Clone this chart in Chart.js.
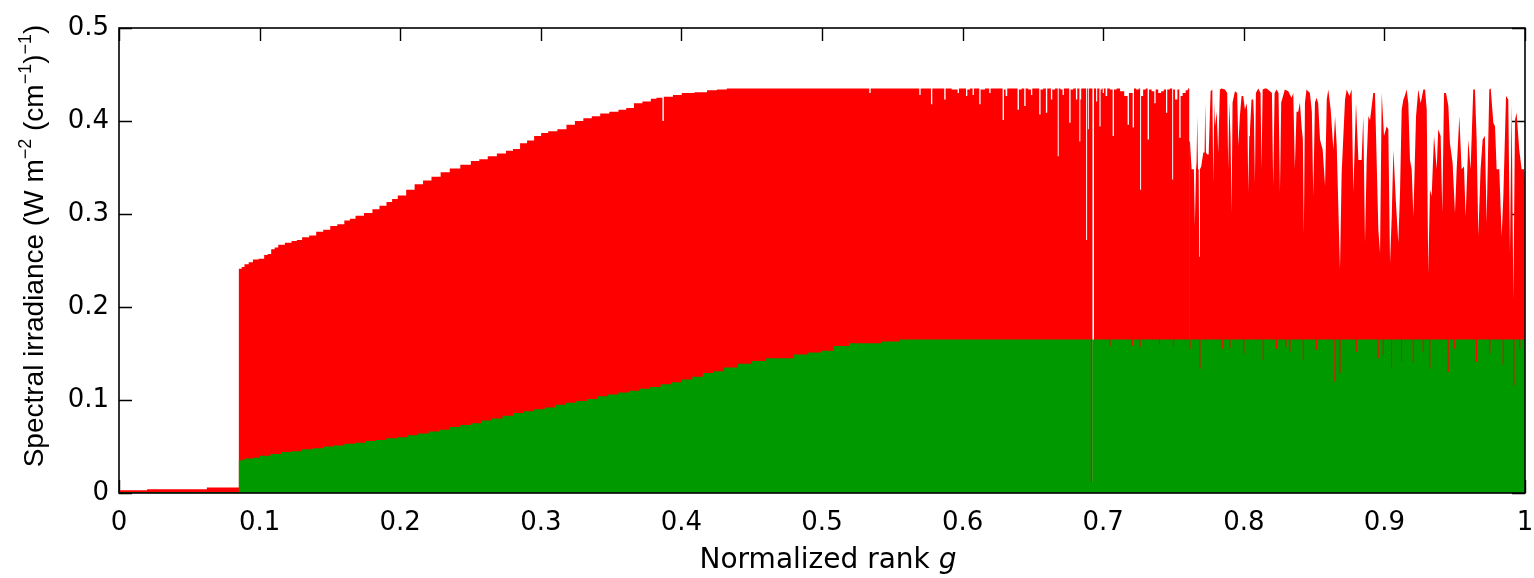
<!DOCTYPE html>
<html>
<head>
<meta charset="utf-8">
<script src="https://cdn.jsdelivr.net/npm/chart.js@4/dist/chart.umd.min.js"></script>
<style>
html,body{margin:0;padding:0;background:#fff;}
#wrap{width:1534px;height:578px;}
</style>
</head>
<body>
<div id="wrap"><canvas id="c" width="1534" height="578"></canvas></div>
<script>
// ---- data ----
const xTickLabels = ["0","0.1","0.2","0.3","0.4","0.5","0.6","0.7","0.8","0.9","1"];
const yTickLabels = ["0","0.1","0.2","0.3","0.4","0.5"];
const xTitleText = "Normalized rank ";
const xTitleVar = "g";
const yTitleParts = [["Spectral irradiance (W m", 0], ["\u22122", 1], [" (cm", 0], ["\u22121", 1], [")", 0], ["\u22121", 1], [")", 0]];

// red series, staircase part: [normalized rank g, spectral irradiance]
const redSeriesLeft = [
[0,0.003],[0.04,0.004],[0.085,0.006],
[0.0855,0.241],[0.089,0.243],[0.0895,0.246],[0.095,0.248],[0.0955,0.251],[0.103,0.252],[0.1035,0.256],[0.108,0.257],[0.1085,0.262],
[0.113,0.264],[0.1135,0.267],[0.1225,0.269],[0.123,0.271],[0.13,0.272],[0.1305,0.275],[0.14,0.277],[0.1405,0.281],[0.15,0.283],
[0.1505,0.287],[0.16,0.289],[0.1605,0.293],[0.168,0.295],[0.1685,0.298],[0.18,0.301],[0.1805,0.305],[0.19,0.309],[0.1905,0.313],
[0.198,0.316],[0.1985,0.320],[0.21,0.326],[0.2105,0.332],[0.222,0.336],[0.2225,0.340],[0.235,0.345],[0.2355,0.349],[0.25,0.353],
[0.2505,0.357],[0.262,0.359],[0.2625,0.362],[0.275,0.365],[0.2755,0.368],[0.285,0.370],[0.2855,0.376],[0.295,0.379],[0.2955,0.384],
[0.305,0.387],[0.3055,0.389],[0.318,0.391],[0.3185,0.396],[0.33,0.400],[0.3305,0.403],[0.342,0.405],[0.3425,0.408],[0.355,0.410],
[0.3555,0.412],[0.366,0.414],[0.3665,0.419],[0.378,0.421],[0.3785,0.424],[0.386,0.425],[0.387,0.400],[0.388,0.426],[0.4,0.428],
[0.4005,0.430],[0.418,0.431],[0.4185,0.433],[0.432,0.434],[0.4325,0.435],[0.52,0.435],
[0.5332,0.435],[0.5341,0.430],[0.5351,0.435],[0.5687,0.435],[0.5697,0.428],[0.5706,0.435],[0.5770,0.435],[0.5780,0.418],[0.5789,0.435],
[0.5865,0.435],[0.5874,0.423],[0.5884,0.435],[0.5960,0.434],[0.5969,0.430],[0.5979,0.435],[0.6019,0.435],[0.6029,0.427],[0.6038,0.434],
[0.6066,0.435],[0.6076,0.428],[0.6085,0.435],[0.6114,0.435],[0.6123,0.418],[0.6133,0.434],[0.6185,0.435],[0.6194,0.430],[0.6204,0.435],
[0.6280,0.435],[0.6289,0.401],[0.6299,0.434],[0.6313,0.427],[0.6322,0.435],[0.6386,0.435],[0.6396,0.412],[0.6405,0.434],
[0.6434,0.435],[0.6443,0.416],[0.6453,0.435],[0.6481,0.434],[0.6491,0.428],[0.6500,0.435],[0.6540,0.435],[0.6550,0.407],[0.6559,0.434],
[0.6588,0.435],[0.6597,0.409],[0.6607,0.435],[0.6623,0.435],[0.6633,0.423],[0.6642,0.434],[0.6673,0.435],[0.6680,0.362],[0.6687,0.435],
[0.6706,0.434],[0.6716,0.428],[0.6725,0.435],[0.6754,0.435],[0.6763,0.398],[0.6773,0.434],[0.6801,0.435],[0.6811,0.423],[0.6820,0.435],
[0.6827,0.435],[0.6834,0.378],[0.6841,0.423],[0.6846,0.435],[0.6875,0.435],[0.6882,0.272],[0.6889,0.435],[0.6894,0.391],[0.6901,0.435],
[0.6922,0.435],[0.6925,0.010],[0.6933,0.010],[0.6936,0.435],[0.6946,0.435],[0.6953,0.421],[0.6962,0.435],[0.6969,0.435],[0.6977,0.394],
[0.6986,0.434],[0.6993,0.435],[0.7000,0.430],[0.7010,0.435],[0.7024,0.427],[0.7033,0.435],
[0.7062,0.434],[0.7072,0.384],[0.7081,0.434],[0.7110,0.435],[0.7130,0.432],[0.7169,0.427],[0.7178,0.396],[0.7188,0.430],[0.7205,0.430],
[0.7214,0.393],[0.7224,0.435],[0.7245,0.434],[0.7259,0.435],[0.7266,0.326],[0.7273,0.427],[0.7295,0.434],[0.7311,0.435],[0.7321,0.380],
[0.7330,0.434],[0.7359,0.432],[0.7368,0.419],[0.7378,0.434],[0.7404,0.430],[0.7420,0.432],[0.7442,0.434],[0.7451,0.409],[0.7460,0.434],
[0.7487,0.435],[0.7494,0.337],[0.7501,0.434],[0.7520,0.423],[0.7536,0.434],[0.7546,0.382],[0.7555,0.427],[0.7575,0.430],[0.7598,0.433],
[0.7607,0.435],[0.7617,0.378]
];

// red series, strongly varying part: [normalized rank g, spectral irradiance]
const redSeriesRight = [
[0.7617,0.378],[0.7629,0.348],[0.7645,0.348],[0.7652,0.287],[0.7660,0.348],[0.7664,0.355],[0.7669,0.405],[0.7674,0.348],
[0.7679,0.348],[0.7683,0.254],[0.7688,0.348],[0.7697,0.351],[0.7712,0.366],[0.7721,0.366],[0.7726,0.419],[0.7731,0.366],[0.7740,0.364],
[0.7750,0.364],[0.7764,0.432],[0.7776,0.434],[0.7783,0.333],[0.7790,0.420],[0.7795,0.394],[0.7807,0.410],[0.7818,0.366],[0.7830,0.434],
[0.7842,0.435],[0.7866,0.434],[0.7882,0.430],[0.7889,0.348],[0.7897,0.420],[0.7906,0.380],[0.7913,0.301],[0.7920,0.420],[0.7937,0.432],
[0.7953,0.430],[0.7961,0.373],[0.7972,0.405],[0.7984,0.427],[0.7996,0.427],[0.8008,0.412],[0.8020,0.419],[0.8025,0.410],[0.8032,0.323],
[0.8039,0.384],[0.8044,0.391],[0.8055,0.423],[0.8067,0.423],[0.8072,0.405],[0.8079,0.333],[0.8086,0.430],[0.8103,0.435],[0.8119,0.430],
[0.8126,0.348],[0.8134,0.434],[0.8150,0.435],[0.8162,0.435],[0.8186,0.432],[0.8200,0.430],[0.8209,0.330],[0.8219,0.430],[0.8233,0.434],
[0.8247,0.430],[0.8257,0.323],[0.8266,0.420],[0.8292,0.434],[0.8316,0.432],[0.8333,0.427],[0.8340,0.425],[0.8352,0.430],[0.8363,0.348],
[0.8375,0.410],[0.8387,0.410],[0.8399,0.420],[0.8411,0.394],[0.8420,0.380],[0.8427,0.278],[0.8435,0.420],[0.8446,0.434],[0.8470,0.430],
[0.8484,0.410],[0.8494,0.319],[0.8506,0.420],[0.8518,0.425],[0.8529,0.419],
[0.8542,0.380],[0.8561,0.369],[0.8578,0.330],[0.8590,0.423],[0.8601,0.434],[0.8618,0.412],[0.8637,0.369],[0.8649,0.405],[0.8661,0.373],
[0.8684,0.240],[0.8696,0.344],[0.8720,0.423],[0.8732,0.434],[0.8751,0.427],[0.8767,0.434],[0.8779,0.323],[0.8798,0.419],[0.8815,0.358],
[0.8838,0.358],[0.8850,0.405],[0.8862,0.269],[0.8874,0.358],[0.8886,0.405],[0.8898,0.401],[0.8921,0.430],[0.8933,0.430],[0.8957,0.283],
[0.8969,0.258],[0.8981,0.430],[0.8997,0.384],[0.9016,0.394],[0.9028,0.391],[0.9040,0.247],[0.9052,0.297],[0.9064,0.369],[0.9082,0.312],
[0.9099,0.269],[0.9111,0.323],[0.9123,0.412],[0.9135,0.423],[0.9147,0.428],[0.9158,0.434],[0.9170,0.419],[0.9182,0.358],[0.9194,0.348],
[0.9206,0.297],[0.9225,0.405],[0.9241,0.434],[0.9258,0.419],[0.9277,0.434],[0.9289,0.434],[0.9301,0.412],[0.9312,0.236],[0.9324,0.326],
[0.9336,0.319],[0.9353,0.384],[0.9372,0.348],[0.9383,0.391],[0.9400,0.384],[0.9412,0.301],[0.9424,0.430],[0.9438,0.430],[0.9455,0.416],
[0.9466,0.376],[0.9485,0.355],[0.9502,0.301],[0.9514,0.348],[0.9533,0.405],[0.9549,0.348],[0.9566,0.351],[0.9578,0.297],[0.9597,0.380],
[0.9613,0.348],[0.9632,0.434],[0.9644,0.434],[0.9656,0.380],[0.9668,0.276],[0.9684,0.348],[0.9699,0.380],[0.9715,0.384],[0.9727,0.290],
[0.9746,0.434],[0.9756,0.435],[0.9775,0.398],[0.9787,0.394],[0.9798,0.348],[0.9817,0.348],[0.9834,0.276],[0.9846,0.319],[0.9865,0.427],
[0.9881,0.423],[0.9893,0.258],[0.9905,0.419],[0.9917,0.208],[0.9929,0.401],[0.9940,0.409],[0.9959,0.369],[0.9976,0.348],[0.9993,0.348],
[1.0,0.333]
];

// green series: [normalized rank g, spectral irradiance]
const greenSeries = [
[0,0.001],[0.085,0.001],[0.0855,0.035],[0.09,0.036],[0.0905,0.037],[0.1,0.038],[0.1005,0.040],[0.115,0.042],[0.1155,0.044],
[0.13,0.045],[0.1305,0.047],[0.145,0.048],[0.1455,0.050],[0.16,0.051],[0.1605,0.053],[0.175,0.054],[0.1755,0.056],[0.19,0.057],
[0.1905,0.059],[0.205,0.060],[0.2055,0.062],[0.22,0.064],[0.2205,0.066],[0.235,0.068],[0.2355,0.071],[0.25,0.073],[0.2505,0.075],
[0.265,0.078],[0.2655,0.080],[0.28,0.083],[0.2805,0.086],[0.295,0.088],[0.2955,0.090],[0.31,0.092],[0.3105,0.095],[0.325,0.097],
[0.3255,0.099],[0.34,0.101],[0.3405,0.104],[0.355,0.106],[0.3555,0.108],[0.37,0.110],[0.3705,0.112],[0.385,0.114],[0.3855,0.117],
[0.40,0.119],[0.4005,0.122],[0.415,0.125],[0.4155,0.129],[0.43,0.131],[0.4305,0.135],[0.45,0.139],[0.4505,0.142],[0.47,0.145],
[0.49,0.149],[0.4905,0.151],[0.508,0.153],[0.5085,0.158],[0.53,0.161],[0.555,0.163],[0.5555,0.165],
[0.6910,0.165],[0.6915,0.012],[0.6920,0.012],[0.6924,0.165],[0.7041,0.165],[0.7048,0.158],[0.7055,0.165],[0.72,0.165],[0.7207,0.158],
[0.7214,0.165],[0.7255,0.165],[0.7262,0.157],[0.7269,0.165],[0.7393,0.165],[0.74,0.160],[0.7407,0.165],[0.7492,0.165],[0.7499,0.158],
[0.7506,0.165],[0.7610,0.165],[0.7617,0.155],[0.7624,0.165],[0.7681,0.165],[0.7688,0.134],[0.7695,0.165],[0.7843,0.165],[0.785,0.155],
[0.7857,0.165],[0.7894,0.165],[0.7901,0.156],[0.7908,0.165],[0.7993,0.165],[0.80,0.150],[0.8007,0.165],[0.8131,0.165],[0.8138,0.143],
[0.8145,0.165],[0.8226,0.165],[0.8233,0.155],[0.8240,0.165],[0.8293,0.165],[0.83,0.157],[0.8307,0.165],[0.8321,0.165],[0.8328,0.152],
[0.8335,0.165],[0.8416,0.165],[0.8423,0.143],[0.8430,0.165],[0.8511,0.165],[0.8518,0.154],[0.8525,0.165],[0.8641,0.165],[0.8648,0.120],
[0.8655,0.165],[0.8677,0.165],[0.8684,0.129],[0.8691,0.165],[0.8793,0.165],[0.88,0.152],[0.8807,0.165],[0.8949,0.165],[0.8956,0.145],
[0.8963,0.165],[0.8985,0.165],[0.8992,0.148],[0.8999,0.165],[0.9044,0.165],[0.9051,0.134],[0.9058,0.165],[0.9115,0.165],[0.9122,0.141],
[0.9129,0.165],[0.9198,0.165],[0.9205,0.141],[0.9212,0.165],[0.9269,0.165],[0.9276,0.152],[0.9283,0.165],[0.9316,0.165],[0.9323,0.134],
[0.9330,0.165],[0.9447,0.165],[0.9454,0.130],[0.9461,0.165],[0.9493,0.165],[0.95,0.155],[0.9507,0.165],[0.9648,0.165],[0.9655,0.141],
[0.9662,0.165],[0.9743,0.165],[0.975,0.150],[0.9757,0.165],[0.9838,0.165],[0.9845,0.138],[0.9852,0.165],[0.9914,0.165],[0.9921,0.116],
[0.9928,0.165],[0.9956,0.165],[0.9963,0.155],[0.9970,0.165],[1.0,0.165]
];

const toPoints = arr => arr.map(p => ({x: p[0], y: p[1]}));

const TICK_FONT = "'DejaVu Sans', 'Liberation Sans', Arial, sans-serif";
const YT_FONT = "'Liberation Sans', Arial, Helvetica, sans-serif";
const RED = '#ff0000';
const GREEN = '#009900';

const ticksBelow = {
  id: 'ticksBelow',
  beforeDatasetsDraw(chart) {
    const {ctx, chartArea: a, scales: {x, y}} = chart;
    const L = 13;
    ctx.save();
    ctx.strokeStyle = '#000';
    ctx.lineWidth = 1.4;
    ctx.beginPath();
    x.ticks.forEach(t => {
      const px = Math.round(x.getPixelForValue(t.value)) + 0.5;
      ctx.moveTo(px, a.bottom); ctx.lineTo(px, a.bottom - L);
      ctx.moveTo(px, a.top); ctx.lineTo(px, a.top + L);
    });
    y.ticks.forEach(t => {
      const py = Math.round(y.getPixelForValue(t.value)) + 0.5;
      ctx.moveTo(a.left, py); ctx.lineTo(a.left + L, py);
      ctx.moveTo(a.right, py); ctx.lineTo(a.right - L, py);
    });
    ctx.stroke();
    ctx.restore();
  }
};

const frameAndTitles = {
  id: 'frameAndTitles',
  afterDatasetsDraw(chart) {
    const {ctx, chartArea: a} = chart;
    ctx.save();
    ctx.strokeStyle = '#000';
    ctx.lineWidth = 1.6;
    ctx.strokeRect(a.left, a.top, a.right - a.left, a.bottom - a.top);
    ctx.restore();
  },
  afterDraw(chart) {
    const {ctx, chartArea: a} = chart;
    ctx.save();
    ctx.fillStyle = '#000';
    ctx.textBaseline = 'alphabetic';
    // x axis title with italic variable
    const fN = "28px " + TICK_FONT;
    const fI = "italic 28px " + TICK_FONT;
    ctx.font = fN; const w1 = ctx.measureText(xTitleText).width;
    ctx.font = fI; const w2 = ctx.measureText(xTitleVar).width;
    const cx = (a.left + a.right) / 2 + 6;
    let sx = cx - (w1 + w2) / 2;
    ctx.font = fN; ctx.textAlign = 'left'; ctx.fillText(xTitleText, sx, 568);
    ctx.font = fI; ctx.fillText(xTitleVar, sx + w1, 568);
    // y axis title with superscripts (rotated)
    const fMain = "28px " + YT_FONT;
    const fSup = "18px " + YT_FONT;
    let total = 0;
    yTitleParts.forEach(p => { ctx.font = p[1] ? fSup : fMain; total += ctx.measureText(p[0]).width; });
    ctx.translate(43, 246);
    ctx.rotate(-Math.PI / 2);
    let px = -total / 2;
    yTitleParts.forEach(p => {
      ctx.font = p[1] ? fSup : fMain;
      ctx.fillText(p[0], px, p[1] ? -12 : 0);
      px += ctx.measureText(p[0]).width;
    });
    ctx.restore();
  }
};

const areaStyle = (color, order, stepped) => ({
  order: order,
  backgroundColor: color,
  borderColor: 'rgba(0,0,0,0)',
  borderWidth: 0,
  pointRadius: 0,
  tension: 0,
  stepped: stepped,
  fill: 'origin'
});

new Chart(document.getElementById('c'), {
  type: 'line',
  data: {
    datasets: [
      Object.assign({label: 'green', data: toPoints(greenSeries)}, areaStyle(GREEN, 0, 'middle')),
      Object.assign({label: 'red', data: toPoints(redSeriesLeft)}, areaStyle(RED, 1, 'middle')),
      Object.assign({label: 'red (high g)', data: toPoints(redSeriesRight)}, areaStyle(RED, 2, false))
    ]
  },
  options: {
    responsive: false,
    animation: false,
    devicePixelRatio: 1,
    layout: {padding: {top: 28, right: 9, left: 0, bottom: 0}},
    plugins: {legend: {display: false}, tooltip: {enabled: false}},
    scales: {
      x: {
        type: 'linear', min: 0, max: 1,
        grid: {display: false, drawTicks: false},
        border: {display: false},
        ticks: {
          stepSize: 0.1, padding: 15, color: '#000', maxRotation: 0,
          font: {family: TICK_FONT, size: 26},
          callback: (v) => xTickLabels[Math.round(v * 10)]
        },
        title: {display: false},
        afterFit: (s) => { s.height = 85; s.paddingLeft = 0; s.paddingRight = 0; }
      },
      y: {
        type: 'linear', min: 0, max: 0.5,
        grid: {display: false, drawTicks: false},
        border: {display: false},
        ticks: {
          stepSize: 0.1, padding: 10, color: '#000',
          font: {family: TICK_FONT, size: 26},
          callback: (v) => yTickLabels[Math.round(v * 10)]
        },
        title: {display: false},
        afterFit: (s) => { s.width = 119; s.paddingTop = 0; s.paddingBottom = 0; }
      }
    }
  },
  plugins: [ticksBelow, frameAndTitles]
});
</script>
</body>
</html>
